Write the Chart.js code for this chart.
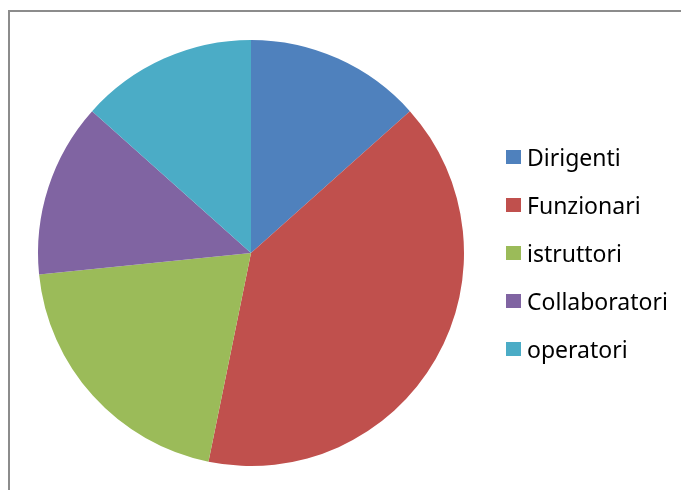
<!DOCTYPE html>
<html lang="it">
<head>
    <meta charset="UTF-8">
    <title>Personale per categoria</title>
    <script src="https://cdn.jsdelivr.net/npm/chart.js"></script>
    <style>
        body { margin: 0; background: #fff; }
        #wrap { position: relative; width: 681px; height: 490px; overflow: hidden; }
        #frame {
            position: absolute; left: 8px; top: 10px; width: 700px; height: 500px;
            border-top: 2px solid #8c8c8c; border-left: 2px solid #8c8c8c;
        }
        #chartCanvas { position: absolute; left: 0; top: 0; }
        .legend-item {
            position: absolute; left: 506px; height: 28px;
            font-family: "Noto Sans", sans-serif; font-size: 23px; color: #000;
            display: flex; align-items: center; white-space: nowrap;
        }
        .legend-box { width: 15px; height: 14px; margin-right: 6px; }
    </style>
</head>
<body>
<div id="wrap">
    <div id="frame"></div>
    <canvas id="chartCanvas" width="681" height="490"></canvas>
    <div id="legend"></div>
</div>

<script>
    const categorie = ['Dirigenti', 'Funzionari', 'istruttori', 'Collaboratori', 'operatori'];
    const valori = [13.4, 39.8, 20.2, 13.2, 13.4];
    const colori = ['#4F81BD', '#C0504D', '#9BBB59', '#8064A2', '#4BACC6'];

    const ctx = document.getElementById('chartCanvas').getContext('2d');
    const chart = new Chart(ctx, {
        type: 'pie',
        data: {
            labels: categorie,
            datasets: [{
                data: valori,
                backgroundColor: colori,
                borderWidth: 0
            }]
        },
        options: {
            responsive: false,
            animation: false,
            layout: { padding: { left: 38, top: 40, right: 217, bottom: 24 } },
            plugins: {
                legend: { display: false },
                tooltip: { enabled: false }
            }
        }
    });

    // legenda a destra, testo vero
    const legendEl = document.getElementById('legend');
    categorie.forEach((nome, i) => {
        const item = document.createElement('div');
        item.className = 'legend-item';
        item.style.top = (157 + i * 48 - 14) + 'px';
        const box = document.createElement('span');
        box.className = 'legend-box';
        box.style.background = colori[i];
        item.appendChild(box);
        item.appendChild(document.createTextNode(nome));
        legendEl.appendChild(item);
    });
</script>
</body>
</html>
